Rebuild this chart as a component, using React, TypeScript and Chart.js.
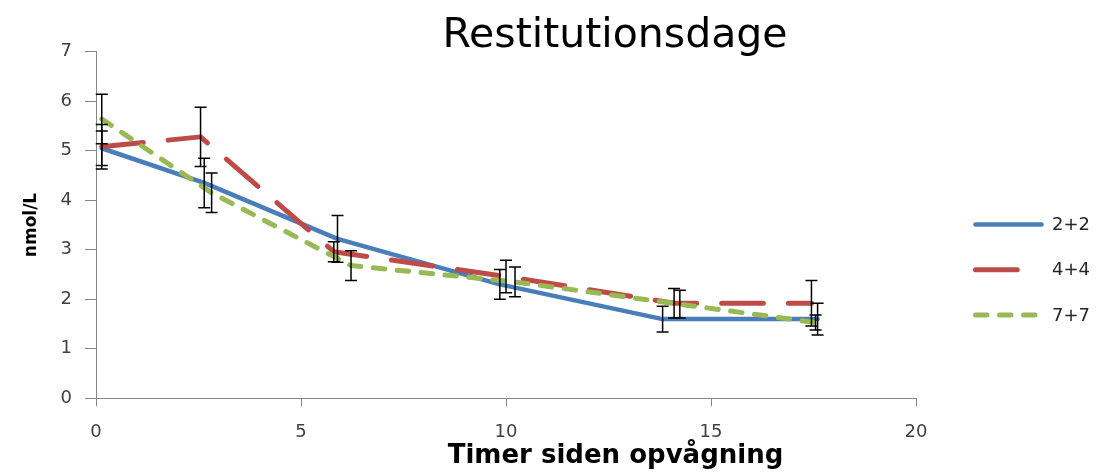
import { useEffect, useRef } from "react";
import { Chart, registerables } from "chart.js";

Chart.register(...registerables);

// Series labels
const seriesNames = ["2+2", "4+4", "7+7"];

// Hours since waking (each series is measured at slightly offset times)
const hours22 = [0.14, 2.64, 5.89, 9.85, 13.82, 17.6];
const hours44 = [0.14, 2.55, 5.8, 10.0, 14.1, 17.45];
const hours77 = [0.14, 2.82, 6.22, 10.22, 14.24, 17.55];

// Mean concentration, nmol/L
const values22 = [5.05, 4.35, 3.22, 2.3, 1.6, 1.6];
const values44 = [5.08, 5.28, 2.96, 2.46, 1.92, 1.92];
const values77 = [5.64, 4.15, 2.68, 2.35, 1.9, 1.53];

// Error bar half-widths (±), nmol/L
const errors22 = [0.35, 0.5, 0.47, 0.3, 0.26, 0.32];
const errors44 = [0.45, 0.6, 0.2, 0.33, 0.3, 0.46];
const errors77 = [0.5, 0.4, 0.3, 0.3, 0.28, 0.15];

// Axis ranges and tick steps
const xRange = [0, 20];
const xStep = 5;
const yRange = [0, 7];
const yStep = 1;

const chartTitle = "Restitutionsdage";
const xAxisTitle = "Timer siden opvågning";
const yAxisTitle = "nmol/L";

const FONT = "'DejaVu Sans', Verdana, sans-serif";

const toPoints = (xs: number[], ys: number[]) => xs.map((x, i) => ({ x, y: ys[i] }));

// Vertical error bars with caps, drawn on top of the lines
const errorBarPlugin = {
  id: "errorBars",
  afterDatasetsDraw(chart: any) {
    const { ctx } = chart;
    const xs = chart.scales.x;
    const ys = chart.scales.y;
    ctx.save();
    ctx.strokeStyle = "#000000";
    ctx.lineWidth = 1.5;
    ctx.lineCap = "butt";
    ctx.setLineDash([]);
    chart.data.datasets.forEach((ds: any) => {
      ds.data.forEach((pt: any, j: number) => {
        const e = ds.errors[j];
        const px = xs.getPixelForValue(pt.x);
        const top = ys.getPixelForValue(pt.y + e);
        const bot = ys.getPixelForValue(pt.y - e);
        ctx.beginPath();
        ctx.moveTo(px, top);
        ctx.lineTo(px, bot);
        ctx.moveTo(px - 6, top);
        ctx.lineTo(px + 6, top);
        ctx.moveTo(px - 6, bot);
        ctx.lineTo(px + 6, bot);
        ctx.stroke();
      });
    });
    ctx.restore();
  },
};

// Chart title, x-axis title and the line-sample legend on the right
const decorPlugin = {
  id: "decor",
  afterDraw(chart: any) {
    const { ctx } = chart;
    ctx.save();
    ctx.fillStyle = "#000000";
    ctx.textAlign = "center";
    ctx.textBaseline = "alphabetic";
    ctx.font = `41px ${FONT}`;
    ctx.fillText(chartTitle, 615, 46.5);
    ctx.font = `bold 26px ${FONT}`;
    ctx.fillText(xAxisTitle, 615.5, 463);

    chart.data.datasets.forEach((ds: any, i: number) => {
      const y = 224.5 + i * 45.3;
      ctx.strokeStyle = ds.borderColor;
      ctx.lineWidth = ds.borderWidth;
      ctx.lineCap = "round";
      ctx.setLineDash(ds.borderDash || []);
      ctx.beginPath();
      ctx.moveTo(975.5, y);
      ctx.lineTo(1041.5, y);
      ctx.stroke();
      ctx.setLineDash([]);
      ctx.fillStyle = "#262626";
      ctx.font = `18px ${FONT}`;
      ctx.textAlign = "left";
      ctx.textBaseline = "middle";
      ctx.fillText(ds.label, 1052, y + 1);
    });
    ctx.restore();
  },
};

export default function App() {
  const canvasRef = useRef<HTMLCanvasElement | null>(null);

  useEffect(() => {
    if (!canvasRef.current) return;
    const axisColor = "#868686";
    const tickColor = "#404040";
    const chart = new Chart(canvasRef.current, {
      type: "scatter",
      data: {
        datasets: [
          {
            label: seriesNames[0],
            data: toPoints(hours22, values22),
            errors: errors22,
            showLine: true,
            borderColor: "#4A7EBB",
            borderWidth: 4.5,
            borderCapStyle: "round",
            borderJoinStyle: "round",
            pointRadius: 0,
            pointHoverRadius: 0,
            order: 2,
          } as any,
          {
            label: seriesNames[1],
            data: toPoints(hours44, values44),
            errors: errors44,
            showLine: true,
            borderColor: "#BE4B48",
            borderWidth: 5,
            borderDash: [41.7, 25],
            borderCapStyle: "round",
            borderJoinStyle: "round",
            pointRadius: 0,
            pointHoverRadius: 0,
            order: 1,
          } as any,
          {
            label: seriesNames[2],
            data: toPoints(hours77, values77),
            errors: errors77,
            showLine: true,
            borderColor: "#98B954",
            borderWidth: 5,
            borderDash: [11.5, 12.5],
            borderCapStyle: "round",
            borderJoinStyle: "round",
            pointRadius: 0,
            pointHoverRadius: 0,
            order: 0,
          } as any,
        ],
      },
      options: {
        responsive: false,
        animation: false,
        devicePixelRatio: 1,
        events: [],
        layout: { padding: { left: 0, top: 51.7, right: 180, bottom: 0 } },
        plugins: {
          legend: { display: false },
          title: { display: false },
          tooltip: { enabled: false },
        },
        scales: {
          x: {
            type: "linear",
            min: xRange[0],
            max: xRange[1],
            ticks: {
              stepSize: xStep,
              color: tickColor,
              font: { family: FONT, size: 18 },
              padding: 15,
              maxRotation: 0,
            },
            grid: { drawOnChartArea: false, drawTicks: true, tickLength: 8, color: axisColor, lineWidth: 1 },
            border: { color: axisColor, width: 1 },
            afterFit: (scale: any) => {
              scale.height = 77.7;
            },
          },
          y: {
            type: "linear",
            min: yRange[0],
            max: yRange[1],
            ticks: {
              stepSize: yStep,
              color: tickColor,
              font: { family: FONT, size: 18 },
              padding: 13,
            },
            grid: { drawOnChartArea: false, drawTicks: true, tickLength: 11, color: axisColor, lineWidth: 1 },
            border: { color: axisColor, width: 1 },
            title: {
              display: true,
              text: yAxisTitle,
              color: "#000000",
              font: { family: FONT, size: 17, weight: "bold" },
              padding: { top: 21, bottom: 0 },
            },
            afterFit: (scale: any) => {
              scale.width = 96;
            },
          },
        },
      },
      plugins: [errorBarPlugin, decorPlugin],
    });
    return () => chart.destroy();
  }, []);

  return (
    <div style={{ position: "fixed", left: 0, top: 0, width: 1096, height: 476, background: "#ffffff" }}>
      <canvas ref={canvasRef} width={1096} height={476} style={{ display: "block" }} />
    </div>
  );
}
